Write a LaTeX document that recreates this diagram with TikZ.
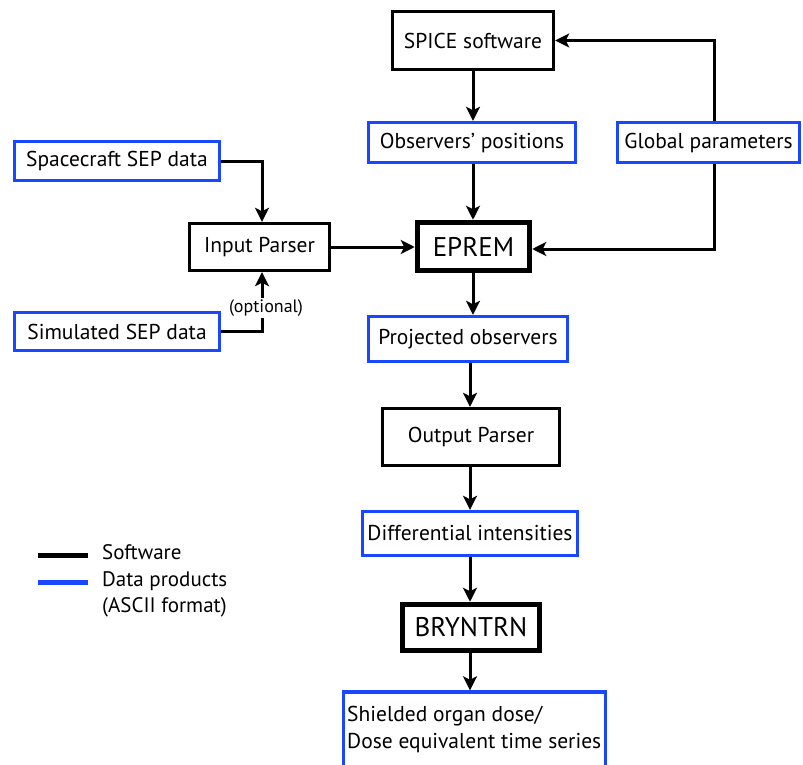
\documentclass[tikz,border=0pt]{standalone}
\usepackage{fontspec}
\setmainfont{PT Sans}
\usetikzlibrary{arrows.meta,positioning}
\definecolor{dblue}{RGB}{25,70,255}
\tikzset{
  sw/.style={draw=black,line width=3.4pt,fill=white,inner sep=0pt,font=\fontsize{21.5}{24}\selectfont},
  swbig/.style={draw=black,line width=5.5pt,fill=white,inner sep=0pt,font=\fontsize{27}{30}\selectfont},
  dp/.style={draw=dblue,line width=3.4pt,fill=white,inner sep=0pt,font=\fontsize{21.5}{24}\selectfont},
  arr/.style={line width=3pt,-{Stealth[length=14pt,width=14pt,inset=3.5pt]}},
}
\begin{document}
\begin{tikzpicture}[x=1pt,y=-1pt]
\useasboundingbox (0,0) rectangle (803,765);
% software boxes
\node[sw,minimum width=161pt,minimum height=58pt] (spice) at (473,40.5) {SPICE software};
\node[swbig,minimum width=112pt,minimum height=48pt] (eprem) at (473.5,246.5) {EPREM};
\node[sw,minimum width=140pt,minimum height=47pt] (ip) at (259.5,247) {Input Parser};
\node[sw,minimum width=177pt,minimum height=57pt] (op) at (471,437) {Output Parser};
\node[swbig,minimum width=137pt,minimum height=46pt] (bry) at (471,627.5) {BRYNTRN};
% data boxes
\node[dp,minimum width=207pt,minimum height=40pt] (obs) at (472,142.5) {Observers’ positions};
\node[dp,minimum width=182pt,minimum height=40pt] (glob) at (708.5,142.5) {Global parameters};
\node[dp,minimum width=205pt,minimum height=39pt] (sc) at (117,161) {Spacecraft SEP data};
\node[dp,minimum width=205pt,minimum height=38pt] (sim) at (117,331.5) {Simulated SEP data};
\node[dp,minimum width=199pt,minimum height=45pt] (proj) at (468,339) {Projected observers};
\node[dp,minimum width=215pt,minimum height=44pt] (diff) at (470,533.5) {Differential intensities};
\node[dp,minimum width=262pt,minimum height=80pt] (shd) at (474.5,732) {};
\node[anchor=west,inner sep=0pt,align=left,font=\fontsize{21.5}{27}\selectfont] (shdtxt) at (347,729) {Shielded organ dose/\\Dose equivalent time series};
% connectors
\draw[arr] (spice.south) -- (spice.south |- obs.north);
\draw[arr] (obs.south -| spice.south) -- (eprem.north -| spice.south);
\draw[arr] ([xshift=5.5pt]glob.north) |- (spice.east);
\draw[arr] ([xshift=5.5pt]glob.south) |- ([yshift=-2.5pt]eprem.east);
\draw[arr] (sc.east) -| ([xshift=2.5pt]ip.north);
\draw[arr] (sim.east) -| ([xshift=2.5pt]ip.south);
\node[font=\fontsize{18}{20}\selectfont,inner sep=1.5pt,fill=white] (opt) at (266,308) {(optional)};
\draw[arr] (ip.east) -- (ip.east -| eprem.west);
\draw[arr] (eprem.south -| spice.south) -- (proj.north -| spice.south);
\draw[arr] ([xshift=2pt]proj.south) -- ([xshift=2pt]proj.south |- op.north);
\draw[arr] (op.south -| diff.north) -- (diff.north);
\draw[arr] (diff.south) -- (diff.south |- bry.north);
\draw[arr] (bry.south -| diff.south) -- (shd.north -| diff.south);
% legend
\coordinate (l1a) at (38,555);
\coordinate (l1b) at (88,555);
\coordinate (l2a) at (38,582);
\coordinate (l2b) at (88,582);
\draw[line width=5pt] (l1a) -- (l1b);
\draw[line width=5pt,dblue] (l2a) -- (l2b);
\node[anchor=west,inner sep=0pt,font=\fontsize{21}{26.5}\selectfont,align=left] (leg) at (102,581) {Software\\Data products\\(ASCII format)};
\end{tikzpicture}
\end{document}
